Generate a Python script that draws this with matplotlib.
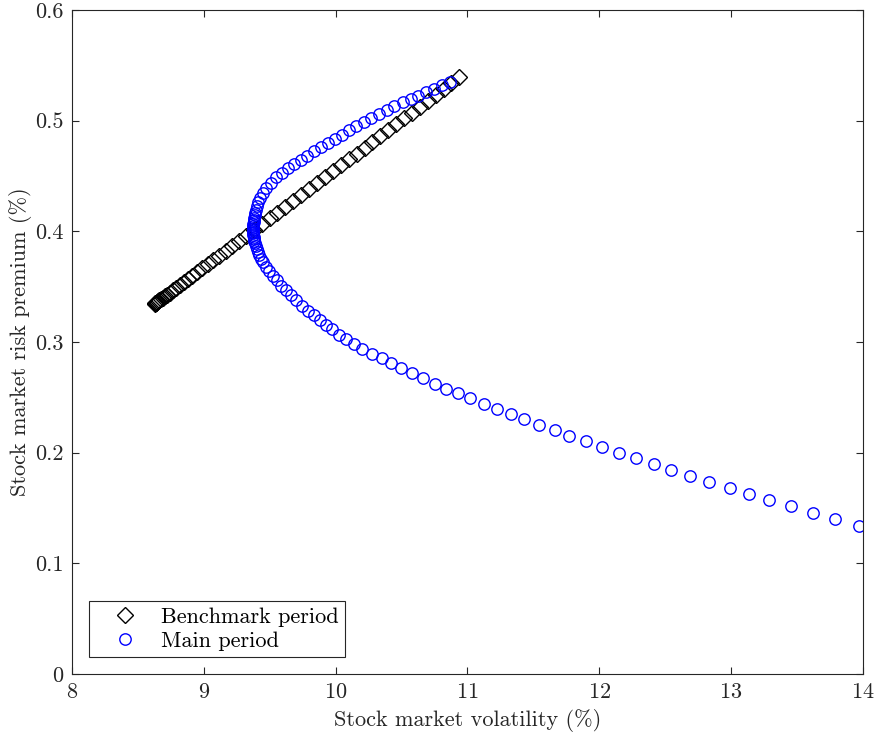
import numpy as np
import matplotlib.pyplot as plt

plt.rcParams['font.family'] = ['cmr10']
plt.rcParams['axes.formatter.use_mathtext'] = True
plt.rcParams['mathtext.fontset'] = 'cm'

# benchmark period (diamonds)
bench_vol = [8.630, 8.632, 8.634, 8.636, 8.640, 8.646, 8.654, 8.663, 8.674, 8.688,
             8.704, 8.722, 8.743, 8.766, 8.791, 8.818, 8.848, 8.879, 8.914, 8.950,
             8.989, 9.030, 9.073, 9.119, 9.166, 9.216, 9.269, 9.323, 9.380, 9.439,
             9.499, 9.559, 9.620, 9.680, 9.740, 9.799, 9.860, 9.920, 9.980, 10.040,
             10.100, 10.160, 10.220, 10.280, 10.340, 10.399, 10.460, 10.520, 10.579, 10.640,
             10.700, 10.760, 10.819, 10.879, 10.939]
bench_prem = [0.3347, 0.3349, 0.3351, 0.3353, 0.3356, 0.3361, 0.3368, 0.3376, 0.3386, 0.3399,
              0.3413, 0.3429, 0.3447, 0.3468, 0.3490, 0.3514, 0.3540, 0.3568, 0.3599, 0.3631,
              0.3665, 0.3702, 0.3740, 0.3780, 0.3822, 0.3866, 0.3913, 0.3961, 0.4012, 0.4064,
              0.4117, 0.4170, 0.4224, 0.4278, 0.4331, 0.4383, 0.4437, 0.4490, 0.4543, 0.4597,
              0.4650, 0.4703, 0.4756, 0.4809, 0.4862, 0.4915, 0.4969, 0.5022, 0.5074, 0.5128,
              0.5181, 0.5234, 0.5287, 0.5340, 0.5393]

# main period (circles)
main_vol = [10.868, 10.809, 10.749, 10.689, 10.629, 10.569, 10.509, 10.447, 10.387, 10.328,
            10.269, 10.212, 10.158, 10.104, 10.051, 9.997, 9.944, 9.892, 9.839, 9.787,
            9.739, 9.688, 9.641, 9.594, 9.549, 9.510, 9.474, 9.448, 9.426, 9.413,
            9.402, 9.394, 9.389, 9.385, 9.381, 9.380, 9.378, 9.377, 9.376, 9.375,
            9.376, 9.377, 9.377, 9.377, 9.378, 9.380, 9.383, 9.388, 9.395, 9.403,
            9.411, 9.421, 9.433, 9.452, 9.473, 9.496, 9.525, 9.556, 9.588, 9.622,
            9.662, 9.703, 9.745, 9.789, 9.834, 9.880, 9.925, 9.971, 10.024, 10.081,
            10.142, 10.204, 10.279, 10.350, 10.423, 10.494, 10.578, 10.661, 10.755, 10.838,
            10.927, 11.020, 11.124, 11.227, 11.331, 11.432, 11.546, 11.663, 11.774, 11.898,
            12.024, 12.149, 12.280, 12.414, 12.548, 12.692, 12.836, 12.993, 13.137, 13.291,
            13.456, 13.625, 13.790, 13.970]
main_prem = [0.5349, 0.5319, 0.5288, 0.5257, 0.5226, 0.5196, 0.5165, 0.5130, 0.5094, 0.5059,
             0.5024, 0.4989, 0.4951, 0.4913, 0.4875, 0.4837, 0.4799, 0.4761, 0.4723, 0.4685,
             0.4647, 0.4608, 0.4569, 0.4530, 0.4490, 0.4441, 0.4392, 0.4343, 0.4299, 0.4261,
             0.4227, 0.4196, 0.4169, 0.4145, 0.4122, 0.4101, 0.4082, 0.4064, 0.4047, 0.4031,
             0.4015, 0.3998, 0.3982, 0.3966, 0.3950, 0.3932, 0.3913, 0.3892, 0.3869, 0.3845,
             0.3818, 0.3787, 0.3754, 0.3719, 0.3681, 0.3641, 0.3600, 0.3557, 0.3510, 0.3467,
             0.3423, 0.3377, 0.3330, 0.3282, 0.3240, 0.3199, 0.3156, 0.3115, 0.3068, 0.3025,
             0.2985, 0.2941, 0.2896, 0.2853, 0.2810, 0.2767, 0.2720, 0.2673, 0.2624, 0.2580,
             0.2536, 0.2491, 0.2441, 0.2395, 0.2347, 0.2301, 0.2251, 0.2201, 0.2153, 0.2102,
             0.2051, 0.2001, 0.1950, 0.1898, 0.1847, 0.1793, 0.1739, 0.1681, 0.1628, 0.1572,
             0.1514, 0.1455, 0.1397, 0.1339]

axcol = '#262626'

fig = plt.figure(figsize=(8.77, 7.38), dpi=100)
ax = fig.add_axes([0.0821, 0.0867, 0.9016, 0.8997])

ax.plot(bench_vol, bench_prem, linestyle='none', marker='D', markersize=8.2,
        markerfacecolor='none', markeredgecolor='black', markeredgewidth=1.0,
        label='Benchmark period')
ax.plot(main_vol, main_prem, linestyle='none', marker='o', markersize=8.2,
        markerfacecolor='none', markeredgecolor='blue', markeredgewidth=1.0,
        label='Main period')

ax.set_xlim(8, 14)
ax.set_ylim(0, 0.6)
ax.set_xticks([8, 9, 10, 11, 12, 13, 14])
ax.set_yticks([0, 0.1, 0.2, 0.3, 0.4, 0.5, 0.6])
ax.set_yticklabels(['0', '0.1', '0.2', '0.3', '0.4', '0.5', '0.6'])

ax.tick_params(direction='in', length=5, width=0.8, top=True, right=True,
               labelsize=16, colors=axcol, pad=6)
for s in ax.spines.values():
    s.set_color(axcol)
    s.set_linewidth(0.8)

ax.set_xlabel('Stock market volatility (%)', fontsize=16, color=axcol, labelpad=5)
ax.set_ylabel('Stock market risk premium (%)', fontsize=16, color=axcol, labelpad=2)

leg = ax.legend(loc='lower left', bbox_to_anchor=(0.022, 0.025), fontsize=16,
                numpoints=1, handlelength=2.6, handletextpad=0.3, borderpad=0.3,
                labelspacing=0.2, fancybox=False, framealpha=1, borderaxespad=0)
leg.get_frame().set_edgecolor(axcol)
leg.get_frame().set_linewidth(0.8)

fig.savefig('out.png', dpi=100)
